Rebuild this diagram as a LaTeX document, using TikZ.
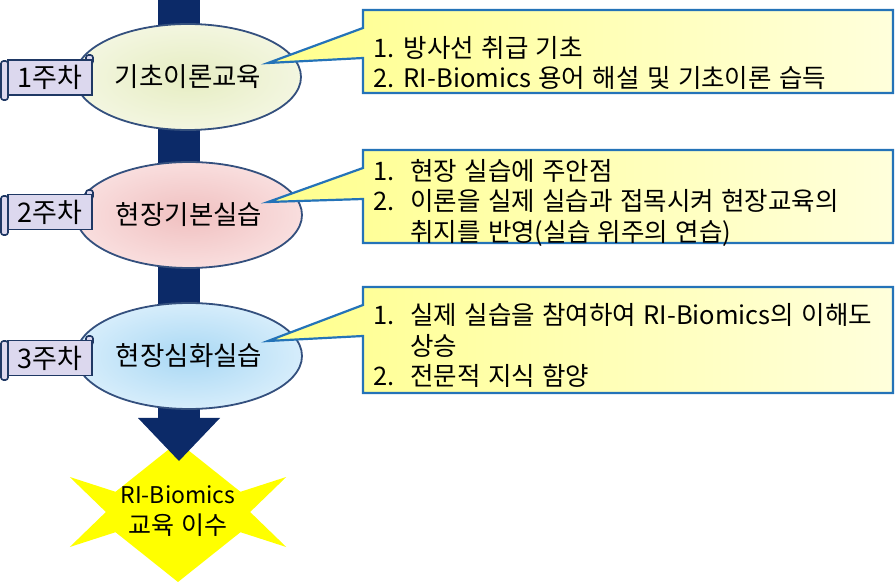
\documentclass[tikz,border=0pt]{standalone}
\usepackage{fontspec}
\setmainfont[WordSpace=1.3]{Noto Sans CJK KR}
\usetikzlibrary{shapes.geometric}
\definecolor{navy}{HTML}{0C2A68}
\definecolor{ellbord}{HTML}{34507E}
\definecolor{tagbord}{HTML}{1F3864}
\definecolor{tagfill}{HTML}{DCD8EE}
\definecolor{cbord}{HTML}{2473B8}
\definecolor{starfill}{HTML}{FFFF00}
\definecolor{gin}{HTML}{E6EDC2}
\definecolor{gout}{HTML}{F3F6E0}
\definecolor{rin}{HTML}{F0C0C0}
\definecolor{rout}{HTML}{F9DEDE}
\definecolor{bin}{HTML}{A9D8F4}
\definecolor{bout}{HTML}{D6EDFB}
\tikzset{
  stage/.style={ellipse, draw=ellbord, line width=1.8pt, minimum width=226pt, minimum height=106pt, inner sep=0pt,
    font=\fontsize{26.5}{30}\selectfont},
  tagbox/.style={rectangle, draw=tagbord, fill=tagfill, line width=1.6pt, minimum width=84pt, minimum height=35pt,
    inner sep=0pt, font=\fontsize{27}{28}\selectfont},
  roll/.style={draw=tagbord, fill=tagfill, line width=1.6pt, rounded corners=2.5pt},
  callout/.style={draw=cbord, line width=2.2pt, left color=yellow!45!white, middle color=yellow!58!white, right color=yellow!14!white},
  ctext/.style={anchor=west, align=left, inner sep=0pt, font=\fontsize{25.5}{30.5}\selectfont},
}
\newcommand{\numA}[1]{\makebox[37pt][l]{#1}}
\begin{document}
\begin{tikzpicture}[x=1pt,y=-1pt]
\useasboundingbox (0,0) rectangle (895,585);
% star
\node[inner sep=0pt] (starc) at (178,512) {};
\fill[starfill]
  (178,442) -- (178+0.577*108.25,512-0.577*35) -- (286.25,477) -- (178+0.577*125,512)
  -- (286.25,547) -- (178+0.577*108.25,512+0.577*35) -- (178,582)
  -- (178-0.577*108.25,512+0.577*35) -- (69.75,547) -- (178-0.577*125,512)
  -- (69.75,477) -- (178-0.577*108.25,512-0.577*35) -- cycle;
\node[align=center, inner sep=0pt, font=\fontsize{23}{31}\selectfont] (fin) at (178,511) {RI-Biomics\\\fontsize{25}{31}\selectfont 교육 이수};
% bar and arrow
\fill[navy] (158,0) rectangle (200,420);
\fill[navy] (138,418) -- (220,418) -- (179,461) -- cycle;
% stages
\node[stage, inner color=gin, outer color=gout] (e1) at (188,77) {기초이론교육};
\node[stage, inner color=rin, outer color=rout] (e2) at (189,215) {현장기본실습};
\node[stage, inner color=bin, outer color=bout] (e3) at (189,356) {현장심화실습};
% tags
\draw[roll] (86,55) rectangle (93,64);
\node[tagbox] (t1) at (50,77.5) {1주차};
\draw[roll] (1,61) rectangle (8,100);
\draw[roll] (86,190) rectangle (93,199);
\node[tagbox] (t2) at (50,212) {2주차};
\draw[roll] (1,196) rectangle (8,235);
\draw[roll] (86,336) rectangle (93,345);
\node[tagbox] (t3) at (50,358) {3주차};
\draw[roll] (1,341) rectangle (8,380);
% callouts
\coordinate (p1) at (268,63);
\coordinate (p2) at (268,202);
\coordinate (p3) at (268,341);
\path[callout] (363,10) -- (893,10) -- (893,93) -- (363,93) -- (363,58) -- (p1) -- (363,28) -- cycle;
\path[callout] (363,150) -- (893,150) -- (893,243) -- (363,243) -- (363,199) -- (p2) -- (363,168) -- cycle;
\path[callout] (363,287) -- (893,287) -- (893,393) -- (363,393) -- (363,336) -- (p3) -- (363,305) -- cycle;
\node[ctext] (c1) at (373,63) {1. 방사선 취급 기초\\2. RI-Biomics 용어 해설 및 기초이론 습득};
\node[ctext] (c2) at (373,202.5) {\numA{1.}현장 실습에 주안점\\\numA{2.}이론을 실제 실습과 접목시켜 현장교육의\\\hspace*{37pt}취지를 반영(실습 위주의 연습)};
\node[ctext] (c3) at (373,345.5) {\numA{1.}실제 실습을 참여하여 RI-Biomics의 이해도\\\hspace*{37pt}상승\\\numA{2.}전문적 지식 함양};
\end{tikzpicture}
\end{document}
